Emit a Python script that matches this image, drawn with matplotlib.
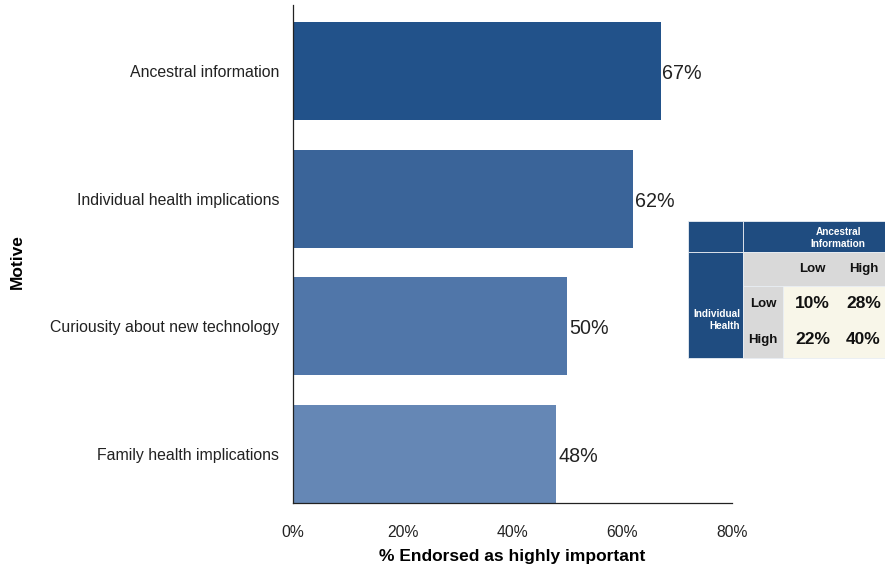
import matplotlib.pyplot as plt
from matplotlib.patches import Rectangle

plt.rcParams['font.family'] = ['Liberation Sans', 'DejaVu Sans']

motives = ['Ancestral information', 'Individual health implications',
           'Curiousity about new technology', 'Family health implications']
endorsed = [67, 62, 50, 48]
bar_colors = ['#22528a', '#3a6499', '#5076a9', '#6587b5']

# cross table: rows = individual health, cols = ancestral information
levels = ['Low', 'High']
cross = [[10, 28], [22, 40]]

W, H = 885, 570
fig = plt.figure(figsize=(W / 100, H / 100), dpi=100)
ax = fig.add_axes([293 / W, 1 - 503 / H, (732 - 293) / W, (503 - 5) / H])

y = list(range(len(motives)))
ax.barh(y, endorsed, height=0.766, color=bar_colors)
for yi, v in zip(y, endorsed):
    ax.text(v + 0.3, yi + 0.02, f'{v}%', va='center', ha='left', fontsize=14.2, color='#222222')

ax.set_xlim(0, 80)
ax.set_ylim(3.383, -0.516)
ax.set_xticks([0, 20, 40, 60, 80])
ax.set_xticklabels([f'{t}%' for t in [0, 20, 40, 60, 80]], fontsize=11.3, color='#222222')
ax.set_yticks(y)
ax.set_yticklabels(motives, fontsize=11.4, color='#222222')
ax.tick_params(length=0)
ax.tick_params(axis='x', pad=16)
ax.tick_params(axis='y', pad=10)
for s in ['top', 'right']:
    ax.spines[s].set_visible(False)
for s in ['left', 'bottom']:
    ax.spines[s].set_color('#222222')
    ax.spines[s].set_linewidth(0.9)
fig.text((293 + 732) / 2 / W, 1 - 557 / H, '% Endorsed as highly important',
         fontsize=12.5, fontweight='bold', ha='center', va='center')
fig.text(17 / W, 1 - 262 / H, 'Motive', rotation=90, fontsize=12.5, fontweight='bold',
         ha='center', va='center')

# inset table drawn in pixel coords
dark = '#1f4c80'
gray = '#d9d9d9'
cream = '#f8f6e9'


def rect(x0, y0, x1, y1, color):
    fig.patches.append(Rectangle((x0 / W, 1 - y1 / H), (x1 - x0) / W, (y1 - y0) / H,
                                 transform=fig.transFigure, facecolor=color,
                                 edgecolor='#e8edf3', linewidth=0.6))


def txt(x, yy, s, size, color, ha='center'):
    fig.text(x / W, 1 - yy / H, s, fontsize=size, fontweight='bold', color=color,
             ha=ha, va='center')


cx = [688, 743, 783, 838, 885]
ry = [221, 252, 286, 322, 358]
rect(cx[0], ry[0], cx[1], ry[1], dark)
rect(cx[0], ry[1], cx[1], ry[4], dark)
rect(cx[1], ry[0], cx[4], ry[1], dark)
rect(cx[1], ry[1], cx[4], ry[2], gray)
rect(cx[1], ry[2], cx[2], ry[4], gray)
rect(cx[2], ry[2], cx[4], ry[4], cream)

txt(838, 238, 'Ancestral\nInformation', 7.2, 'white')
txt(740, 320, 'Individual\nHealth', 7.2, 'white', ha='right')
for j, lv in enumerate(levels):
    txt((cx[2 + j] + cx[3 + j]) / 2 + 2, 269, lv, 9.5, '#111111')
    txt((cx[1] + cx[2]) / 2, (ry[2 + j] + ry[3 + j]) / 2, lv, 9.5, '#111111')
for i in range(2):
    for j in range(2):
        txt((cx[2 + j] + cx[3 + j]) / 2 + 2, (ry[2 + i] + ry[3 + i]) / 2,
            f'{cross[i][j]}%', 12.5, '#111111')

fig.savefig('out.png', dpi=100)
